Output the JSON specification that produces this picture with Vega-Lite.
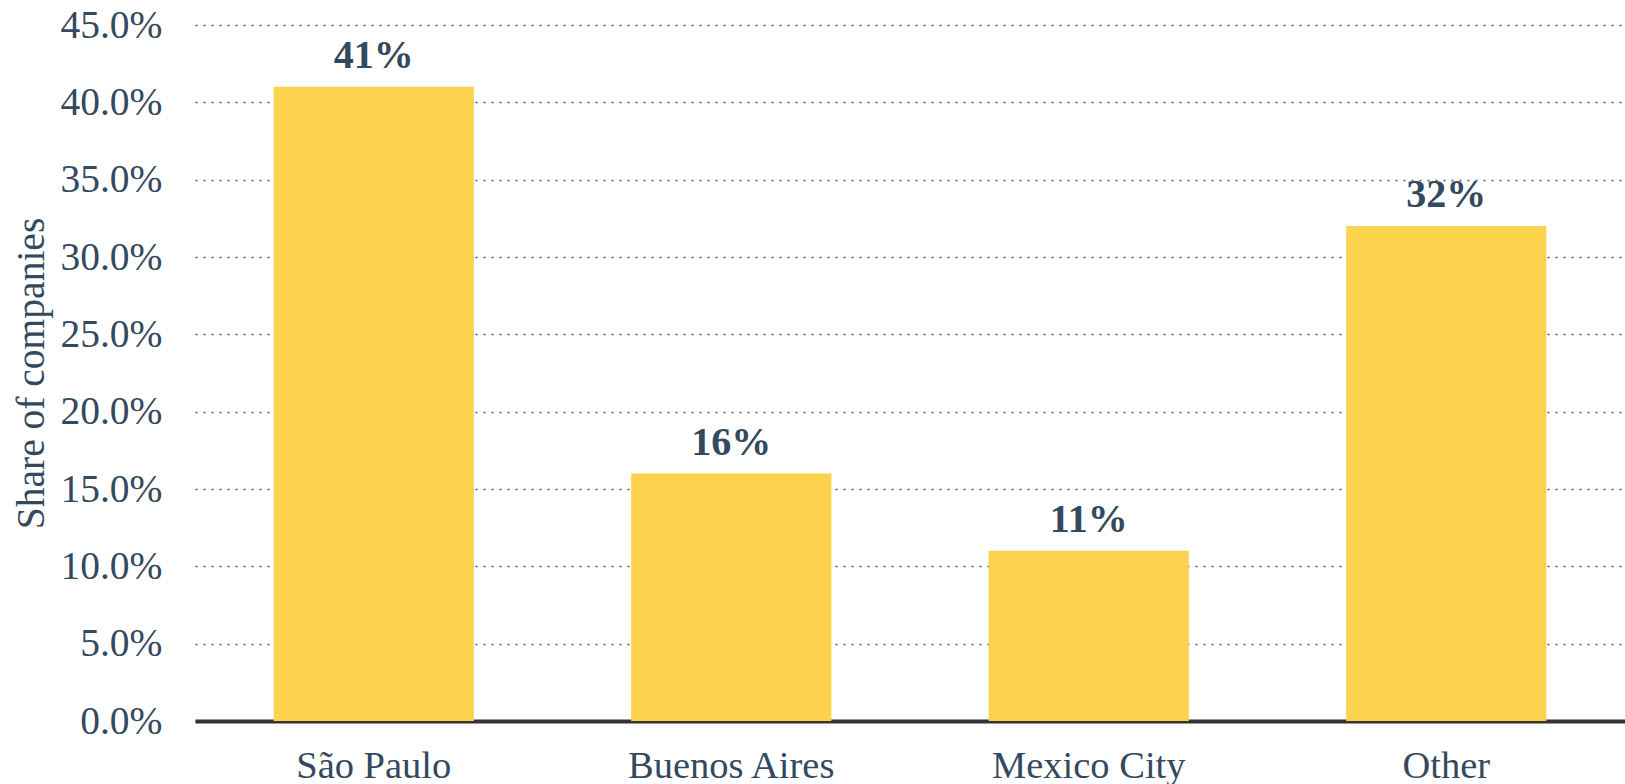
{
  "$schema": "https://vega.github.io/schema/vega-lite/v6.json",
  "width": 1430,
  "height": 696,
  "autosize": "none",
  "padding": {"left": 195, "top": 25, "right": 0, "bottom": 63},
  "background": "white",
  "config": {
    "view": {"stroke": null},
    "font": "Liberation Serif"
  },
  "data": {
    "values": [
      {"city": "São Paulo", "share": 0.41, "label": "41%"},
      {"city": "Buenos Aires", "share": 0.16, "label": "16%"},
      {"city": "Mexico City", "share": 0.11, "label": "11%"},
      {"city": "Other", "share": 0.32, "label": "32%"}
    ]
  },
  "encoding": {
    "x": {
      "field": "city",
      "type": "nominal",
      "sort": null,
      "scale": {"paddingInner": 0.44, "paddingOuter": 0.22},
      "axis": {
        "title": null,
        "labelAngle": 0,
        "labelFont": "Liberation Serif",
        "labelFontSize": 38.5,
        "labelColor": "#34495e",
        "labelPadding": 26,
        "labelLimit": 0,
        "ticks": false,
        "domainColor": "#333333",
        "domainWidth": 4,
        "grid": false
      }
    },
    "y": {
      "field": "share",
      "type": "quantitative",
      "scale": {"domain": [0, 0.45], "nice": false},
      "axis": {
        "title": "Share of companies",
        "format": ".1%",
        "values": [0, 0.05, 0.1, 0.15, 0.2, 0.25, 0.3, 0.35, 0.4, 0.45],
        "labelFont": "Liberation Serif",
        "labelFontSize": 39.5,
        "labelColor": "#34495e",
        "labelPadding": 33,
        "ticks": false,
        "domain": false,
        "grid": true,
        "gridColor": "#4a5a6a",
        "gridDash": [2, 6],
        "gridWidth": 1.5,
        "titleFont": "Liberation Serif",
        "titleFontSize": 39.5,
        "titleFontWeight": "normal",
        "titleColor": "#34495e",
        "titleX": -164,
        "titleY": 348,
        "titleAngle": -90,
        "titleAlign": "center",
        "titleBaseline": "middle"
      }
    }
  },
  "layer": [
    {
      "mark": {"type": "bar", "color": "#fdd34d"}
    },
    {
      "mark": {
        "type": "text",
        "font": "Liberation Serif",
        "fontSize": 40,
        "fontWeight": "bold",
        "color": "#34495e",
        "baseline": "alphabetic",
        "dy": -19
      },
      "encoding": {"text": {"field": "label"}}
    }
  ]
}
